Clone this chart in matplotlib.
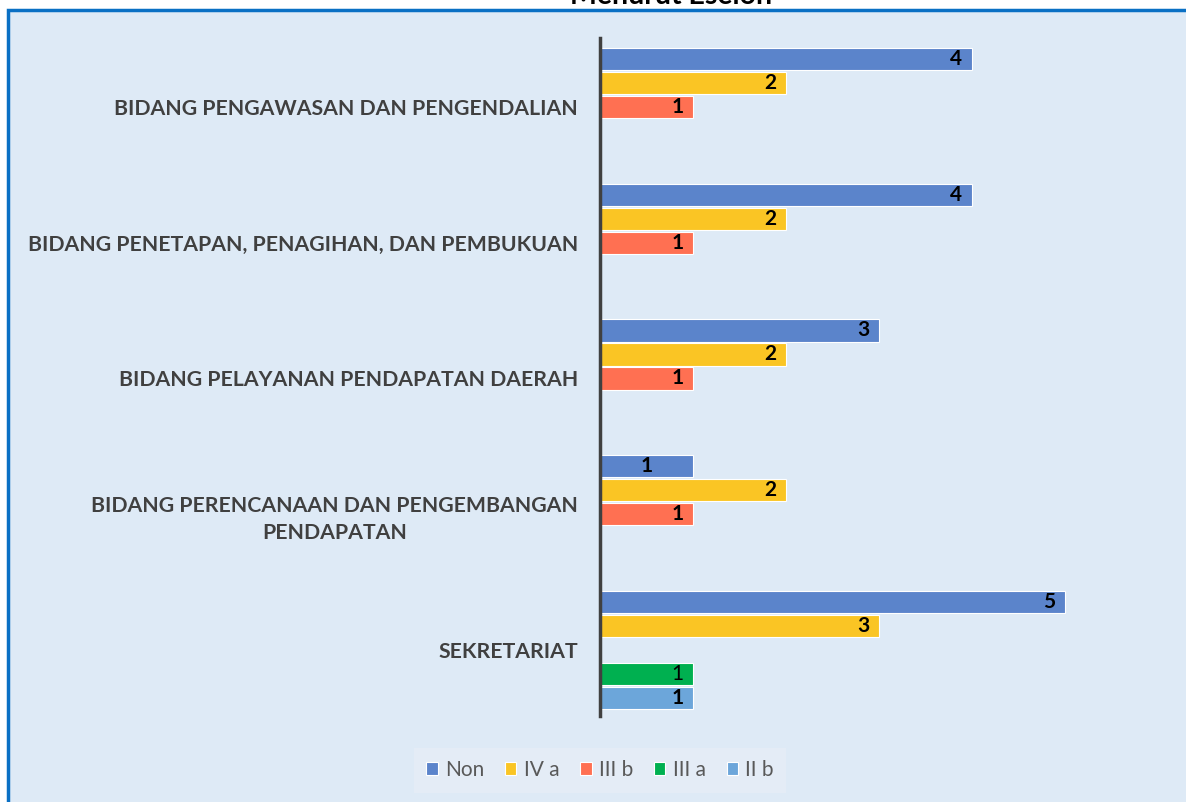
import matplotlib
matplotlib.use("Agg")
import matplotlib.pyplot as plt
from matplotlib.patches import Rectangle
import numpy as np

plt.rcParams['font.family'] = ['Lato', 'DejaVu Sans']

title = "Menurut Eselon"
categories = [
    "BIDANG PENGAWASAN DAN PENGENDALIAN",
    "BIDANG PENETAPAN, PENAGIHAN, DAN PEMBUKUAN",
    "BIDANG PELAYANAN PENDAPATAN DAERAH",
    "BIDANG PERENCANAAN DAN PENGEMBANGAN\nPENDAPATAN",
    "SEKRETARIAT",
]
series_names = ["Non", "IV a", "III b", "III a", "II b"]
non_vals = [4, 4, 3, 1, 5]
iva_vals = [2, 2, 2, 2, 3]
iiib_vals = [1, 1, 1, 1, 0]
iiia_vals = [0, 0, 0, 0, 1]
iib_vals = [0, 0, 0, 0, 1]
series_vals = [non_vals, iva_vals, iiib_vals, iiia_vals, iib_vals]
colors = ["#5B84CB", "#FAC524", "#FF7052", "#00B050", "#6CA6DA"]

W, H = 1186, 802
fig = plt.figure(figsize=(W / 100, H / 100), dpi=100, facecolor="white")

# chart area background with blue border
bg = Rectangle((8 / W, -0.05), 1.2, (H - 10) / H + 0.05, transform=fig.transFigure,
               facecolor="#DEEAF6", edgecolor="#0A70C4", linewidth=2.5, zorder=-5)
fig.patches.append(bg)

fig.text(671 / W, (H - 4) / H, title, ha="center", va="baseline",
         fontsize=20.5, fontweight="bold", color="black")

ax = fig.add_axes([600 / W, (H - 716) / H, 558 / W, 678 / H])
ax.set_facecolor("none")
ax.set_zorder(2)

pos = np.arange(len(categories))
slot = 0.1768
bar_h = 0.165
for j, (name, vals, col) in enumerate(zip(series_names, series_vals, colors)):
    idx = [i for i, v in enumerate(vals) if v > 0]
    ys = [pos[i] + (j - 2) * slot for i in idx]
    ws = [vals[i] for i in idx]
    ax.barh(ys, ws, height=bar_h, color=col, edgecolor="white", linewidth=0.8,
            label=name, zorder=2)
    for y, v, ci in zip(ys, ws, idx):
        weight = "normal" if name == "III a" else "bold"
        if name == "Non" and ci == 3:
            ax.text(v / 2, y, str(v), ha="center", va="center", fontsize=15,
                    fontweight=weight, color="black", zorder=3)
        else:
            ax.annotate(str(v), (v, y), xytext=(-7, 0), textcoords="offset points",
                        ha="right", va="center", fontsize=15, fontweight=weight,
                        color="black", zorder=3)

ax.set_xlim(0, 6)
ax.set_ylim(4.486, -0.508)
ax.set_xticks([])
ax.set_yticks(pos)
ax.set_yticklabels(categories, fontsize=15.3, fontweight="bold", color="#404040")
for lbl in ax.get_yticklabels():
    lbl.set_multialignment("center")
    lbl.set_linespacing(1.4)
ax.tick_params(axis="y", length=0, pad=16)
for s in ["top", "right", "bottom"]:
    ax.spines[s].set_visible(False)
ax.spines["left"].set_color("#404040")
ax.spines["left"].set_linewidth(2.5)

leg = fig.legend(loc="center", bbox_to_anchor=(600 / W, (H - 770) / H), ncol=5,
                 frameon=True, fancybox=False, fontsize=15, handlelength=0.55,
                 handleheight=0.55, handletextpad=0.35, columnspacing=1.0,
                 borderpad=0.6, labelcolor="#595959")
leg.get_frame().set_facecolor("#E4ECF6")
leg.get_frame().set_edgecolor("none")
leg.get_frame().set_alpha(1)

fig.savefig("out.png", dpi=100, facecolor="white")
